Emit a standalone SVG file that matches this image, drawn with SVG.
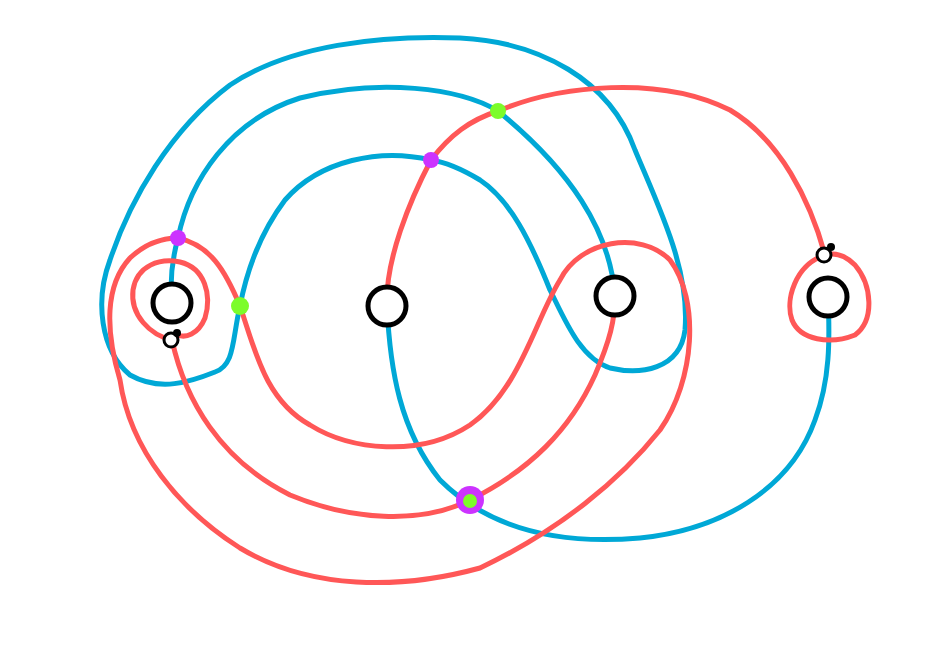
<svg xmlns="http://www.w3.org/2000/svg" width="947" height="651" viewBox="0 0 947 651">
<style>
.b{fill:none;stroke:#00a8d6;stroke-width:5;stroke-linecap:round;stroke-linejoin:round}
.r{fill:none;stroke:#ff5757;stroke-width:5;stroke-linecap:round;stroke-linejoin:round}
.n{fill:#fff;stroke:#000;stroke-width:5}
.s{fill:#fff;stroke:#000;stroke-width:3}
</style>
<rect width="947" height="651" fill="#fff"/>
<g id="connectors">
<path class="b" d="M615,296 C610,230 570,170 498,111 C460,88 380,78 300,98 C230,120 190,180 178,238 C172,260 170,285 172,303"/>
<path class="b" d="M431,160 C380,148 320,160 285,200 C255,240 245,280 240,306 C232,340 235,365 215,372 C190,382 160,392 130,375 C100,350 95,300 110,260 C130,200 170,130 230,85 C290,45 380,35 460,38 C540,42 610,80 635,150 C660,210 690,270 685,330 C680,370 640,375 610,368 C580,358 565,320 550,290 C530,240 510,200 480,180 C460,168 445,162 431,160"/>
<path class="b" d="M387,306 C390,370 400,430 440,480 C490,530 560,545 640,538 C720,530 790,490 815,420 C830,380 830,340 828,297"/>
<path class="r" d="M178,238 C210,245 225,270 240,306 C255,350 265,400 310,425 C350,450 420,458 470,425 C520,390 535,320 560,280 C580,240 640,230 670,260 C700,300 695,380 660,430 C620,480 560,530 480,568 C400,590 310,590 240,548 C180,510 130,450 120,380 C105,330 105,285 130,258 C145,244 160,238 178,238"/>
<path class="r" d="M172,340 C150,335 130,315 133,290 C137,265 160,258 180,262 C205,268 212,295 205,318 C198,335 185,338 178,335"/>
<path class="r" d="M172,340 C185,400 220,460 290,495 C350,520 420,525 470,500 C530,470 570,430 595,375 C610,340 615,320 615,296"/>
<path class="r" d="M387,306 C385,260 410,200 431,160 C450,135 470,120 498,111 C560,85 660,75 730,110 C780,140 810,200 825,255"/>
<path class="r" d="M825,255 C795,265 785,300 792,320 C800,340 830,345 855,335 C875,320 872,285 855,265 C845,255 835,252 825,255"/>
</g>
<g id="n1"><circle class="n" cx="172" cy="303" r="19"/></g>
<g id="n2"><circle class="n" cx="387" cy="306" r="19"/></g>
<g id="n3"><circle class="n" cx="615" cy="296" r="19"/></g>
<g id="n4"><circle class="n" cx="828" cy="297" r="19"/></g>
<g id="s1"><circle class="s" cx="171" cy="340" r="7"/><circle cx="177" cy="333" r="4"/></g>
<g id="s2"><circle class="s" cx="824" cy="255" r="7"/><circle cx="831" cy="247" r="4"/></g>
<g id="dots">
<circle cx="178" cy="238" r="8" fill="#cc33ff"/>
<circle cx="431" cy="160" r="8" fill="#cc33ff"/>
<circle cx="240" cy="306" r="9" fill="#7cfc2a"/>
<circle cx="498" cy="111" r="8" fill="#7cfc2a"/>
<circle cx="470" cy="500" r="14" fill="#cc33ff"/>
<circle cx="470" cy="501" r="7" fill="#7cfc2a"/>
</g>
</svg>
